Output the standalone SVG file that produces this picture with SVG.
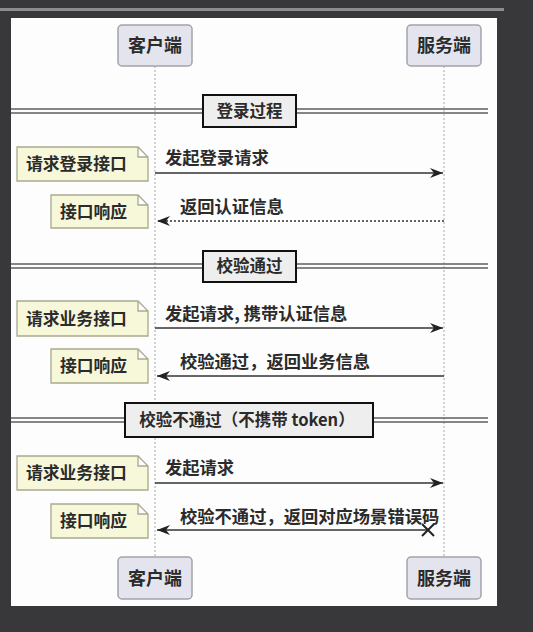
<svg xmlns="http://www.w3.org/2000/svg" width="533" height="632" viewBox="0 0 533 632">
<style>
text{font-family:"Noto Sans CJK SC","Noto Sans",sans-serif;fill:#2b2b2b;font-weight:600}
.part rect{fill:#e4e4ee;stroke:#a2a2aa;stroke-width:1.5}
.part text{font-size:18px;text-anchor:middle}
.note path{fill:#f7f7da;stroke:#a9a98e;stroke-width:1.3}
.note text{font-size:16.8px}
.div line{stroke:#5e5e5e;stroke-width:1.7}
.div rect{fill:#eeeeee;stroke:#111;stroke-width:2}
.div text{font-size:16.5px;font-weight:bold}
.life{stroke:#a8a8a8;stroke-width:1;stroke-dasharray:2 2}
.msg{stroke:#333;stroke-width:1.4;fill:none}
.dash{stroke-dasharray:2 2}
.lbl{font-size:17.3px}
</style>
<defs>
<marker id="ah" markerWidth="14" markerHeight="10" refX="13" refY="5" orient="auto" markerUnits="userSpaceOnUse">
<path d="M0,0 L13,5 L0,10 L4,5 Z" fill="#222"/>
</marker>
</defs>
<rect x="0" y="0" width="533" height="632" fill="#38383a"/>
<rect x="0" y="8" width="504" height="3" fill="#8c8c8e"/>
<rect x="11" y="18" width="486" height="588" fill="#fdfdfe"/>

<g id="lifelines">
<line class="life" x1="155" y1="66" x2="155" y2="557"/>
<line class="life" x1="444" y1="66" x2="444" y2="557"/>
</g>

<g id="client-top" class="part"><rect x="118" y="25" width="74" height="41" rx="4"/><text x="155" y="52">客户端</text></g>
<g id="server-top" class="part"><rect x="407" y="25" width="74" height="41" rx="4"/><text x="444" y="52">服务端</text></g>
<g id="client-bottom" class="part"><rect x="118" y="557" width="74" height="42" rx="4"/><text x="155" y="585">客户端</text></g>
<g id="server-bottom" class="part"><rect x="407" y="557" width="74" height="42" rx="4"/><text x="444" y="585">服务端</text></g>

<g id="div-login" class="div">
<line x1="11" y1="109" x2="488" y2="109"/><line x1="11" y1="113" x2="488" y2="113"/>
<rect x="203" y="95" width="93" height="32"/><text x="249.5" y="117" text-anchor="middle">登录过程</text>
</g>
<g id="div-pass" class="div">
<line x1="11" y1="264" x2="488" y2="264"/><line x1="11" y1="268" x2="488" y2="268"/>
<rect x="203" y="251" width="93" height="31"/><text x="249.5" y="272" text-anchor="middle">校验通过</text>
</g>
<g id="div-fail" class="div">
<line x1="11" y1="418" x2="488" y2="418"/><line x1="11" y1="422" x2="488" y2="422"/>
<rect x="125" y="403" width="248" height="34"/><text x="247" y="426" text-anchor="middle">校验不通过（不携带 token）</text>
</g>

<g id="note1" class="note"><path d="M17,147 H138 L148,157 V181 H17 Z M138,147 V157 H148"/><text x="26" y="170">请求登录接口</text></g>
<g id="note2" class="note"><path d="M51,195 H138 L148,205 V228 H51 Z M138,195 V205 H148"/><text x="60" y="218">接口响应</text></g>
<g id="note3" class="note"><path d="M17,301 H138 L148,311 V336 H17 Z M138,301 V311 H148"/><text x="26" y="325">请求业务接口</text></g>
<g id="note4" class="note"><path d="M51,349 H138 L148,359 V383 H51 Z M138,349 V359 H148"/><text x="60" y="372">接口响应</text></g>
<g id="note5" class="note"><path d="M17,456 H138 L148,466 V490 H17 Z M138,456 V466 H148"/><text x="26" y="479">请求业务接口</text></g>
<g id="note6" class="note"><path d="M51,504 H138 L148,514 V538 H51 Z M138,504 V514 H148"/><text x="60" y="527">接口响应</text></g>

<g id="connectors">
<line class="msg" x1="155" y1="173" x2="443" y2="173" marker-end="url(#ah)"/>
<text class="lbl" x="165" y="164">发起登录请求</text>
<line class="msg dash" x1="444" y1="221" x2="157" y2="221" marker-end="url(#ah)"/>
<text class="lbl" x="180" y="213">返回认证信息</text>
<line class="msg" x1="155" y1="328" x2="443" y2="328" marker-end="url(#ah)"/>
<text class="lbl" x="165" y="320">发起请求, 携带认证信息</text>
<line class="msg" x1="444" y1="376" x2="157" y2="376" marker-end="url(#ah)"/>
<text class="lbl" x="180" y="368">校验通过，返回业务信息</text>
<line class="msg" x1="155" y1="483" x2="443" y2="483" marker-end="url(#ah)"/>
<text class="lbl" x="165" y="474">发起请求</text>
<line class="msg" x1="428" y1="530" x2="157" y2="530" marker-end="url(#ah)"/>
<text class="lbl" x="180" y="523">校验不通过，返回对应场景错误码</text>
<path d="M422,524 L434,536 M434,524 L422,536" stroke="#222" stroke-width="2"/>
</g>
</svg>
